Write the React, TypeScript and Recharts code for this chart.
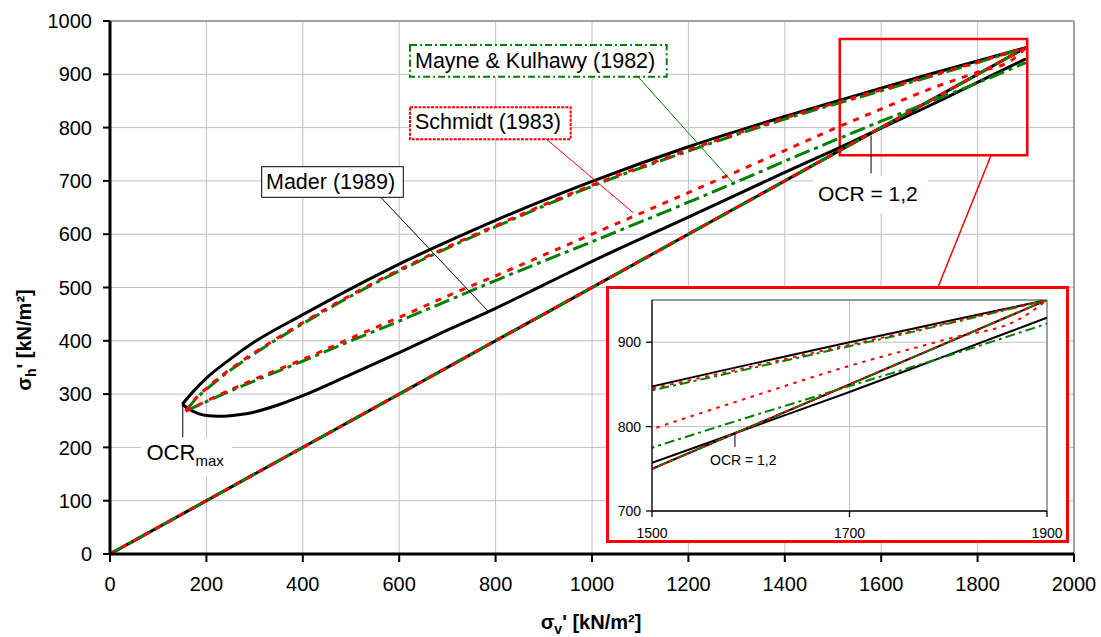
import React from 'react';
import { LineChart, Line, XAxis, YAxis, CartesianGrid, ReferenceLine, ReferenceArea } from 'recharts';

const FONT = '"Liberation Sans", Arial, Helvetica, sans-serif';

// Axis ticks
const mainXTicks = [0, 200, 400, 600, 800, 1000, 1200, 1400, 1600, 1800, 2000];
const mainYTicks = [0, 100, 200, 300, 400, 500, 600, 700, 800, 900, 1000];
const insetXTicks = [1500, 1700, 1900];
const insetYTicks = [700, 800, 900];

// Virgin loading (K0 line), common to all three methods
const virginV = [0, 1900];
const virginH = [0, 950];

// Mader (1989)
const maderUnloadV = [150, 175, 200, 250, 300, 400, 500, 600, 700, 800, 1000, 1200, 1400, 1600, 1700, 1800, 1900];
const maderUnloadH = [281, 307, 330, 366, 398, 449, 498, 544, 586, 626, 699, 764, 821, 874, 900, 925, 950];
const maderReloadV = [150, 165, 185, 200, 225, 250, 275, 300, 350, 400, 500, 600, 700, 800, 900, 1000, 1200, 1400, 1500, 1600, 1700, 1800, 1900];
const maderReloadH = [281, 271, 263, 260, 258.5, 259.5, 262, 266.5, 280, 297, 337, 378, 420, 461, 505, 549, 632, 716, 757, 799, 841, 885, 929];

// Schmidt (1983)
const schmidtUnloadV = [157, 175, 200, 250, 300, 400, 500, 600, 700, 800, 1000, 1200, 1400, 1600, 1800, 1900];
const schmidtUnloadH = [268, 289, 311, 347, 378, 434, 486, 533, 576, 616, 692, 758, 818, 871, 923, 950];
const schmidtReloadV = [157, 200, 300, 400, 500, 600, 700, 800, 1000, 1200, 1400, 1500, 1600, 1700, 1800, 1873, 1900];
const schmidtReloadH = [268, 287, 328, 365, 405, 444, 484, 522, 600, 678, 757, 797, 835, 872, 904, 928, 950];

// Mayne & Kulhawy (1982)
const mayneUnloadV = [157, 175, 200, 250, 300, 400, 500, 600, 700, 800, 1000, 1200, 1400, 1600, 1800, 1900];
const mayneUnloadH = [268, 288, 309, 345, 376, 432, 484, 531, 574, 614, 690, 756, 816, 869, 922, 950];
const mayneReloadV = [157, 200, 300, 400, 500, 600, 700, 800, 1000, 1200, 1300, 1400, 1500, 1600, 1700, 1800, 1900];
const mayneReloadH = [268, 286, 325, 362, 400, 437, 475, 513, 586, 660, 698, 737, 775, 812, 848, 884, 922];

const pts = (xs: number[], ys: number[]) => xs.map((x, i) => ({ x, y: ys[i] }));

type Kind = 'black' | 'red' | 'green';
const series: { key: string; kind: Kind; data: { x: number; y: number }[] }[] = [
  { key: 'virginBlack', kind: 'black', data: pts(virginV, virginH) },
  { key: 'maderUnload', kind: 'black', data: pts(maderUnloadV, maderUnloadH) },
  { key: 'maderReload', kind: 'black', data: pts(maderReloadV, maderReloadH) },
  { key: 'virginGreen', kind: 'green', data: pts(virginV, virginH) },
  { key: 'mayneUnload', kind: 'green', data: pts(mayneUnloadV, mayneUnloadH) },
  { key: 'mayneReload', kind: 'green', data: pts(mayneReloadV, mayneReloadH) },
  { key: 'virginRed', kind: 'red', data: pts(virginV, virginH) },
  { key: 'schmidtUnload', kind: 'red', data: pts(schmidtUnloadV, schmidtUnloadH) },
  { key: 'schmidtReload', kind: 'red', data: pts(schmidtReloadV, schmidtReloadH) },
];

const styleMain: Record<Kind, { stroke: string; width: number; dash?: string }> = {
  black: { stroke: '#000000', width: 3 },
  green: { stroke: '#008000', width: 3, dash: '16 5 4 5' },
  red: { stroke: '#FF0000', width: 3, dash: '6 7' },
};
const styleInset: Record<Kind, { stroke: string; width: number; dash?: string }> = {
  black: { stroke: '#000000', width: 2 },
  green: { stroke: '#008000', width: 2, dash: '10 4 3 4' },
  red: { stroke: '#FF0000', width: 2, dash: '3.5 5.5' },
};

const renderLines = (st: typeof styleMain) =>
  series.map((s) => (
    <Line
      key={s.key}
      data={s.data}
      dataKey="y"
      type="monotoneX"
      stroke={st[s.kind].stroke}
      strokeWidth={st[s.kind].width}
      strokeDasharray={st[s.kind].dash}
      dot={false}
      activeDot={false}
      isAnimationActive={false}
    />
  ));

const tickMain = { fill: '#000', fontSize: 20, fontFamily: FONT };
const tickInset = { fill: '#000', fontSize: 14, fontFamily: FONT };

export default function App() {
  return (
    <div style={{ position: 'absolute', left: 0, top: 0, width: 1101, height: 637, background: '#fff', fontFamily: FONT }}>
      <div style={{ position: 'absolute', left: 0, top: 0 }}>
        <LineChart width={1101} height={637} margin={{ top: 21, right: 27, bottom: 43, left: 0 }}>
          <CartesianGrid stroke="#c0c0c0" strokeWidth={1} />
          <XAxis
            type="number"
            dataKey="x"
            domain={[0, 2000]}
            ticks={mainXTicks}
            interval={0}
            height={40}
            tickSize={8}
            tickMargin={15}
            axisLine={{ stroke: '#000', strokeWidth: 3 }}
            tickLine={{ stroke: '#000', strokeWidth: 2 }}
            tick={tickMain}
            allowDataOverflow
          />
          <YAxis
            type="number"
            domain={[0, 1000]}
            ticks={mainYTicks}
            interval={0}
            width={110}
            tickSize={7}
            tickMargin={11}
            axisLine={{ stroke: '#000', strokeWidth: 3 }}
            tickLine={{ stroke: '#000', strokeWidth: 2 }}
            tick={tickMain}
            allowDataOverflow
          />
          <ReferenceLine y={1000} stroke="#8c8c8c" strokeWidth={1.5} />
          <ReferenceLine x={2000} stroke="#8c8c8c" strokeWidth={1.5} />
          {renderLines(styleMain)}
          <ReferenceArea x1={1514} x2={1903} y1={748} y2={966} fill="none" fillOpacity={0} stroke="#FF0000" strokeWidth={2.5} ifOverflow="visible" />
          <ReferenceLine segment={[{ x: 1828, y: 748 }, { x: 1718, y: 501 }]} stroke="#FF0000" strokeWidth={1.5} ifOverflow="visible" />
          <ReferenceLine segment={[{ x: 562, y: 669 }, { x: 785, y: 455 }]} stroke="#000" strokeWidth={1} ifOverflow="visible" />
          <ReferenceLine segment={[{ x: 902, y: 781 }, { x: 1086, y: 640 }]} stroke="#FF0000" strokeWidth={1} ifOverflow="visible" />
          <ReferenceLine segment={[{ x: 1096, y: 895 }, { x: 1293, y: 696 }]} stroke="#008000" strokeWidth={1} ifOverflow="visible" />
          <ReferenceLine segment={[{ x: 1579, y: 785 }, { x: 1579, y: 714 }]} stroke="#000" strokeWidth={1} ifOverflow="visible" />
          <ReferenceLine segment={[{ x: 151, y: 282 }, { x: 151, y: 219 }]} stroke="#000" strokeWidth={1} ifOverflow="visible" />
        </LineChart>
      </div>

      <svg width={1101} height={637} style={{ position: 'absolute', left: 0, top: 0, pointerEvents: 'none' }}>
        {/* Mayne & Kulhawy label */}
        <rect x={410} y={45} width={256.7} height={31.7} fill="#fff" stroke="#008000" strokeWidth={2} strokeDasharray="7 3 2 3" />
        <text x={415} y={67.5} fontSize={21.5} fontFamily={FONT} fill="#000">Mayne &amp; Kulhawy (1982)</text>
        {/* Schmidt label */}
        <rect x={410} y={107.3} width={160.7} height={32} fill="#fff" stroke="#FF0000" strokeWidth={2} strokeDasharray="3 1.2" />
        <text x={415} y={128.5} fontSize={21.5} fontFamily={FONT} fill="#000">Schmidt (1983)</text>
        {/* Mader label */}
        <rect x={261.7} y={166.7} width={141.6} height={30.6} fill="#fff" stroke="#000" strokeWidth={1} />
        <text x={266} y={188.5} fontSize={21.5} fontFamily={FONT} fill="#000">Mader (1989)</text>
        {/* OCR = 1,2 */}
        <rect x={813} y={176} width={115} height={37} fill="#fff" />
        <text x={818} y={200.5} fontSize={21} fontFamily={FONT} fill="#000">OCR = 1,2</text>
        {/* OCR max */}
        <rect x={141} y={438} width={91} height={38} fill="#fff" />
        <text x={146.5} y={459.5} fontSize={22} fontFamily={FONT} fill="#000">
          OCR<tspan fontSize={15} dy={6}>max</tspan>
        </text>
        {/* axis titles */}
        <text x={591} y={629} textAnchor="middle" fontSize={20} fontWeight="bold" fontFamily={FONT} fill="#000">
          σ<tspan fontSize={14} dy={5}>v</tspan><tspan dy={-5}>' [kN/m²]</tspan>
        </text>
        <text x={31} y={340} textAnchor="middle" fontSize={20} fontWeight="bold" fontFamily={FONT} fill="#000" transform="rotate(-90, 31, 340)">
          σ<tspan fontSize={14} dy={5}>h</tspan><tspan dy={-5}>' [kN/m²]</tspan>
        </text>
      </svg>

      <div style={{ position: 'absolute', left: 606, top: 286, width: 463, height: 257, border: '3px solid #FF0000', boxSizing: 'border-box', background: '#fff' }}>
        <LineChart width={457} height={251} margin={{ top: 11, right: 19, bottom: 0, left: 0 }}>
          <CartesianGrid stroke="#c0c0c0" strokeWidth={1} />
          <XAxis
            type="number"
            dataKey="x"
            domain={[1500, 1900]}
            ticks={insetXTicks}
            interval={0}
            height={29}
            tickSize={6}
            tickMargin={11}
            axisLine={{ stroke: '#000', strokeWidth: 1.3 }}
            tickLine={{ stroke: '#000', strokeWidth: 1.3 }}
            tick={tickInset}
            allowDataOverflow
          />
          <YAxis
            type="number"
            domain={[700, 950]}
            ticks={insetYTicks}
            interval={0}
            width={43}
            tickSize={6}
            tickMargin={5}
            axisLine={{ stroke: '#000', strokeWidth: 1.3 }}
            tickLine={{ stroke: '#000', strokeWidth: 1.3 }}
            tick={tickInset}
            allowDataOverflow
          />
          <ReferenceLine y={950} stroke="#808080" strokeWidth={1.3} />
          <ReferenceLine x={1900} stroke="#808080" strokeWidth={1.3} />
          {renderLines(styleInset)}
          <ReferenceLine segment={[{ x: 1584, y: 794 }, { x: 1584, y: 776 }]} stroke="#000" strokeWidth={1} ifOverflow="visible" />
        </LineChart>
      </div>

      <svg width={1101} height={637} style={{ position: 'absolute', left: 0, top: 0, pointerEvents: 'none' }}>
        <text x={710} y={465} fontSize={14} fontFamily={FONT} fill="#000">OCR = 1,2</text>
      </svg>
    </div>
  );
}
